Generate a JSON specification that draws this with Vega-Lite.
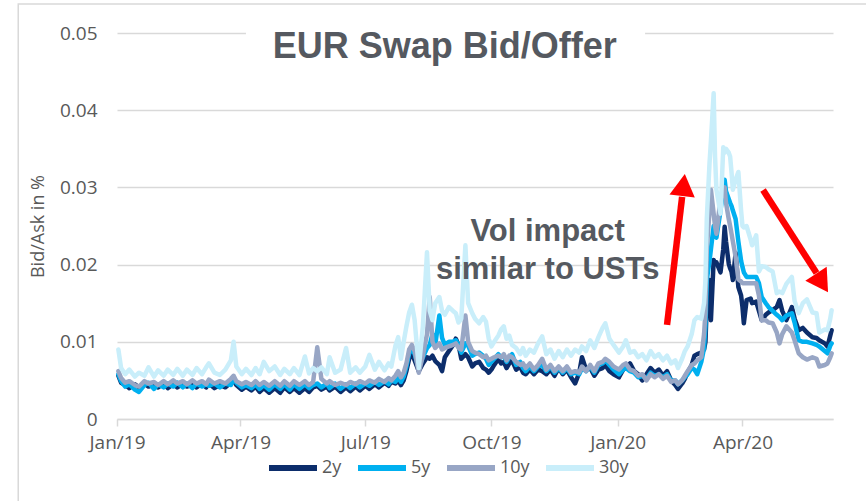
{
  "$schema": "https://vega.github.io/schema/vega-lite/v6.json",
  "width": 716,
  "height": 386,
  "autosize": {"type": "none"},
  "padding": {"left": 117, "top": 33, "right": 33, "bottom": 82},
  "background": "white",
  "config": {"view": {"stroke": null}, "font": "Open Sans"},
  "datasets": {
    "swaps": [
      {"date":"2019-01-02","2y":0.0056,"5y":0.0058,"10y":0.0062,"30y":0.0090},
      {"date":"2019-01-04","2y":0.0047,"5y":0.0049,"10y":0.0053,"30y":0.0066},
      {"date":"2019-01-07","2y":0.0044,"5y":0.0042,"10y":0.0047,"30y":0.0058},
      {"date":"2019-01-10","2y":0.0040,"5y":0.0045,"10y":0.0049,"30y":0.0064},
      {"date":"2019-01-14","2y":0.0045,"5y":0.0038,"10y":0.0044,"30y":0.0055},
      {"date":"2019-01-17","2y":0.0041,"5y":0.0035,"10y":0.0042,"30y":0.0060},
      {"date":"2019-01-21","2y":0.0046,"5y":0.0044,"10y":0.0049,"30y":0.0056},
      {"date":"2019-01-24","2y":0.0042,"5y":0.0047,"10y":0.0046,"30y":0.0067},
      {"date":"2019-01-28","2y":0.0045,"5y":0.0039,"10y":0.0048,"30y":0.0055},
      {"date":"2019-01-31","2y":0.0041,"5y":0.0045,"10y":0.0044,"30y":0.0063},
      {"date":"2019-02-04","2y":0.0046,"5y":0.0041,"10y":0.0049,"30y":0.0056},
      {"date":"2019-02-07","2y":0.0040,"5y":0.0046,"10y":0.0045,"30y":0.0064},
      {"date":"2019-02-11","2y":0.0045,"5y":0.0042,"10y":0.0050,"30y":0.0057},
      {"date":"2019-02-14","2y":0.0041,"5y":0.0047,"10y":0.0046,"30y":0.0065},
      {"date":"2019-02-18","2y":0.0046,"5y":0.0041,"10y":0.0049,"30y":0.0056},
      {"date":"2019-02-21","2y":0.0042,"5y":0.0046,"10y":0.0045,"30y":0.0064},
      {"date":"2019-02-25","2y":0.0045,"5y":0.0040,"10y":0.0050,"30y":0.0057},
      {"date":"2019-02-28","2y":0.0041,"5y":0.0046,"10y":0.0046,"30y":0.0066},
      {"date":"2019-03-04","2y":0.0046,"5y":0.0042,"10y":0.0049,"30y":0.0058},
      {"date":"2019-03-07","2y":0.0041,"5y":0.0045,"10y":0.0045,"30y":0.0067},
      {"date":"2019-03-09","2y":0.0046,"5y":0.0043,"10y":0.0051,"30y":0.0072},
      {"date":"2019-03-13","2y":0.0040,"5y":0.0046,"10y":0.0046,"30y":0.0060},
      {"date":"2019-03-17","2y":0.0044,"5y":0.0041,"10y":0.0049,"30y":0.0057},
      {"date":"2019-03-21","2y":0.0041,"5y":0.0046,"10y":0.0046,"30y":0.0064},
      {"date":"2019-03-25","2y":0.0047,"5y":0.0044,"10y":0.0052,"30y":0.0076},
      {"date":"2019-03-27","2y":0.0050,"5y":0.0052,"10y":0.0056,"30y":0.0100},
      {"date":"2019-03-29","2y":0.0044,"5y":0.0047,"10y":0.0049,"30y":0.0068},
      {"date":"2019-04-02","2y":0.0038,"5y":0.0041,"10y":0.0045,"30y":0.0058},
      {"date":"2019-04-05","2y":0.0042,"5y":0.0044,"10y":0.0048,"30y":0.0065},
      {"date":"2019-04-09","2y":0.0037,"5y":0.0040,"10y":0.0044,"30y":0.0057},
      {"date":"2019-04-12","2y":0.0042,"5y":0.0045,"10y":0.0049,"30y":0.0066},
      {"date":"2019-04-15","2y":0.0035,"5y":0.0039,"10y":0.0044,"30y":0.0058},
      {"date":"2019-04-18","2y":0.0040,"5y":0.0044,"10y":0.0048,"30y":0.0074},
      {"date":"2019-04-22","2y":0.0034,"5y":0.0038,"10y":0.0043,"30y":0.0062},
      {"date":"2019-04-26","2y":0.0040,"5y":0.0045,"10y":0.0049,"30y":0.0068},
      {"date":"2019-04-30","2y":0.0034,"5y":0.0039,"10y":0.0043,"30y":0.0057},
      {"date":"2019-05-03","2y":0.0041,"5y":0.0045,"10y":0.0049,"30y":0.0065},
      {"date":"2019-05-07","2y":0.0035,"5y":0.0038,"10y":0.0043,"30y":0.0058},
      {"date":"2019-05-10","2y":0.0040,"5y":0.0045,"10y":0.0049,"30y":0.0066},
      {"date":"2019-05-14","2y":0.0034,"5y":0.0039,"10y":0.0044,"30y":0.0057},
      {"date":"2019-05-18","2y":0.0040,"5y":0.0045,"10y":0.0049,"30y":0.0081},
      {"date":"2019-05-21","2y":0.0035,"5y":0.0040,"10y":0.0044,"30y":0.0059},
      {"date":"2019-05-24","2y":0.0041,"5y":0.0044,"10y":0.0048,"30y":0.0066},
      {"date":"2019-05-27","2y":0.0043,"5y":0.0046,"10y":0.0093,"30y":0.0062},
      {"date":"2019-05-30","2y":0.0038,"5y":0.0041,"10y":0.0052,"30y":0.0067},
      {"date":"2019-06-03","2y":0.0042,"5y":0.0046,"10y":0.0046,"30y":0.0058},
      {"date":"2019-06-05","2y":0.0037,"5y":0.0040,"10y":0.0049,"30y":0.0080},
      {"date":"2019-06-09","2y":0.0042,"5y":0.0046,"10y":0.0044,"30y":0.0060},
      {"date":"2019-06-13","2y":0.0035,"5y":0.0039,"10y":0.0047,"30y":0.0064},
      {"date":"2019-06-17","2y":0.0041,"5y":0.0045,"10y":0.0044,"30y":0.0092},
      {"date":"2019-06-20","2y":0.0036,"5y":0.0040,"10y":0.0048,"30y":0.0060},
      {"date":"2019-06-24","2y":0.0042,"5y":0.0046,"10y":0.0045,"30y":0.0067},
      {"date":"2019-06-27","2y":0.0037,"5y":0.0041,"10y":0.0049,"30y":0.0060},
      {"date":"2019-07-01","2y":0.0043,"5y":0.0046,"10y":0.0046,"30y":0.0068},
      {"date":"2019-07-04","2y":0.0039,"5y":0.0043,"10y":0.0050,"30y":0.0083},
      {"date":"2019-07-08","2y":0.0045,"5y":0.0048,"10y":0.0047,"30y":0.0064},
      {"date":"2019-07-11","2y":0.0041,"5y":0.0044,"10y":0.0052,"30y":0.0074},
      {"date":"2019-07-15","2y":0.0047,"5y":0.0049,"10y":0.0048,"30y":0.0063},
      {"date":"2019-07-18","2y":0.0043,"5y":0.0045,"10y":0.0053,"30y":0.0072},
      {"date":"2019-07-20","2y":0.0048,"5y":0.0050,"10y":0.0050,"30y":0.0068},
      {"date":"2019-07-23","2y":0.0046,"5y":0.0048,"10y":0.0056,"30y":0.0095},
      {"date":"2019-07-25","2y":0.0050,"5y":0.0054,"10y":0.0062,"30y":0.0106},
      {"date":"2019-07-27","2y":0.0044,"5y":0.0048,"10y":0.0054,"30y":0.0078},
      {"date":"2019-07-29","2y":0.0050,"5y":0.0055,"10y":0.0060,"30y":0.0100},
      {"date":"2019-07-31","2y":0.0062,"5y":0.0068,"10y":0.0072,"30y":0.0120},
      {"date":"2019-08-02","2y":0.0078,"5y":0.0085,"10y":0.0090,"30y":0.0138},
      {"date":"2019-08-04","2y":0.0085,"5y":0.0092,"10y":0.0096,"30y":0.0148},
      {"date":"2019-08-06","2y":0.0076,"5y":0.0084,"10y":0.0088,"30y":0.0128},
      {"date":"2019-08-09","2y":0.0062,"5y":0.0066,"10y":0.0060,"30y":0.0066},
      {"date":"2019-08-12","2y":0.0072,"5y":0.0080,"10y":0.0082,"30y":0.0120},
      {"date":"2019-08-15","2y":0.0080,"5y":0.0092,"10y":0.0110,"30y":0.0216},
      {"date":"2019-08-17","2y":0.0078,"5y":0.0096,"10y":0.0158,"30y":0.0140},
      {"date":"2019-08-19","2y":0.0082,"5y":0.0110,"10y":0.0100,"30y":0.0128},
      {"date":"2019-08-21","2y":0.0075,"5y":0.0096,"10y":0.0092,"30y":0.0150},
      {"date":"2019-08-24","2y":0.0070,"5y":0.0134,"10y":0.0098,"30y":0.0158},
      {"date":"2019-08-26","2y":0.0062,"5y":0.0105,"10y":0.0090,"30y":0.0140},
      {"date":"2019-08-28","2y":0.0080,"5y":0.0096,"10y":0.0092,"30y":0.0135},
      {"date":"2019-08-31","2y":0.0088,"5y":0.0100,"10y":0.0094,"30y":0.0145},
      {"date":"2019-09-03","2y":0.0096,"5y":0.0100,"10y":0.0096,"30y":0.0140},
      {"date":"2019-09-05","2y":0.0104,"5y":0.0102,"10y":0.0098,"30y":0.0137},
      {"date":"2019-09-07","2y":0.0096,"5y":0.0096,"10y":0.0092,"30y":0.0125},
      {"date":"2019-09-09","2y":0.0078,"5y":0.0086,"10y":0.0090,"30y":0.0130},
      {"date":"2019-09-12","2y":0.0084,"5y":0.0098,"10y":0.0134,"30y":0.0225},
      {"date":"2019-09-14","2y":0.0080,"5y":0.0095,"10y":0.0100,"30y":0.0150},
      {"date":"2019-09-17","2y":0.0068,"5y":0.0082,"10y":0.0088,"30y":0.0137},
      {"date":"2019-09-19","2y":0.0072,"5y":0.0084,"10y":0.0086,"30y":0.0130},
      {"date":"2019-09-22","2y":0.0074,"5y":0.0086,"10y":0.0084,"30y":0.0124},
      {"date":"2019-09-25","2y":0.0066,"5y":0.0082,"10y":0.0080,"30y":0.0132},
      {"date":"2019-09-27","2y":0.0064,"5y":0.0078,"10y":0.0082,"30y":0.0126},
      {"date":"2019-09-29","2y":0.0060,"5y":0.0070,"10y":0.0076,"30y":0.0104},
      {"date":"2019-10-01","2y":0.0064,"5y":0.0074,"10y":0.0078,"30y":0.0094},
      {"date":"2019-10-03","2y":0.0070,"5y":0.0078,"10y":0.0080,"30y":0.0100},
      {"date":"2019-10-06","2y":0.0078,"5y":0.0084,"10y":0.0082,"30y":0.0108},
      {"date":"2019-10-08","2y":0.0072,"5y":0.0080,"10y":0.0080,"30y":0.0116},
      {"date":"2019-10-10","2y":0.0074,"5y":0.0082,"10y":0.0084,"30y":0.0120},
      {"date":"2019-10-12","2y":0.0066,"5y":0.0074,"10y":0.0076,"30y":0.0104},
      {"date":"2019-10-14","2y":0.0072,"5y":0.0080,"10y":0.0082,"30y":0.0108},
      {"date":"2019-10-16","2y":0.0076,"5y":0.0084,"10y":0.0080,"30y":0.0096},
      {"date":"2019-10-19","2y":0.0064,"5y":0.0070,"10y":0.0074,"30y":0.0092},
      {"date":"2019-10-22","2y":0.0068,"5y":0.0074,"10y":0.0070,"30y":0.0084},
      {"date":"2019-10-24","2y":0.0060,"5y":0.0066,"10y":0.0072,"30y":0.0092},
      {"date":"2019-10-26","2y":0.0058,"5y":0.0062,"10y":0.0066,"30y":0.0082},
      {"date":"2019-10-29","2y":0.0064,"5y":0.0068,"10y":0.0072,"30y":0.0090},
      {"date":"2019-11-01","2y":0.0058,"5y":0.0062,"10y":0.0064,"30y":0.0086},
      {"date":"2019-11-04","2y":0.0064,"5y":0.0068,"10y":0.0070,"30y":0.0098},
      {"date":"2019-11-07","2y":0.0062,"5y":0.0070,"10y":0.0078,"30y":0.0107},
      {"date":"2019-11-10","2y":0.0058,"5y":0.0062,"10y":0.0064,"30y":0.0084},
      {"date":"2019-11-13","2y":0.0064,"5y":0.0068,"10y":0.0070,"30y":0.0090},
      {"date":"2019-11-16","2y":0.0056,"5y":0.0060,"10y":0.0062,"30y":0.0078},
      {"date":"2019-11-19","2y":0.0066,"5y":0.0066,"10y":0.0068,"30y":0.0088},
      {"date":"2019-11-22","2y":0.0058,"5y":0.0060,"10y":0.0062,"30y":0.0080},
      {"date":"2019-11-25","2y":0.0064,"5y":0.0066,"10y":0.0068,"30y":0.0090},
      {"date":"2019-11-28","2y":0.0054,"5y":0.0058,"10y":0.0060,"30y":0.0082},
      {"date":"2019-12-01","2y":0.0046,"5y":0.0060,"10y":0.0062,"30y":0.0090},
      {"date":"2019-12-04","2y":0.0060,"5y":0.0058,"10y":0.0060,"30y":0.0086},
      {"date":"2019-12-06","2y":0.0080,"5y":0.0066,"10y":0.0068,"30y":0.0094},
      {"date":"2019-12-09","2y":0.0064,"5y":0.0062,"10y":0.0062,"30y":0.0088},
      {"date":"2019-12-12","2y":0.0066,"5y":0.0068,"10y":0.0070,"30y":0.0102},
      {"date":"2019-12-15","2y":0.0056,"5y":0.0060,"10y":0.0062,"30y":0.0092},
      {"date":"2019-12-18","2y":0.0064,"5y":0.0070,"10y":0.0072,"30y":0.0106},
      {"date":"2019-12-21","2y":0.0066,"5y":0.0072,"10y":0.0074,"30y":0.0118},
      {"date":"2019-12-23","2y":0.0070,"5y":0.0076,"10y":0.0078,"30y":0.0124},
      {"date":"2019-12-26","2y":0.0062,"5y":0.0070,"10y":0.0074,"30y":0.0104},
      {"date":"2019-12-29","2y":0.0058,"5y":0.0064,"10y":0.0068,"30y":0.0096},
      {"date":"2020-01-02","2y":0.0054,"5y":0.0058,"10y":0.0064,"30y":0.0086},
      {"date":"2020-01-05","2y":0.0064,"5y":0.0064,"10y":0.0070,"30y":0.0094},
      {"date":"2020-01-07","2y":0.0066,"5y":0.0066,"10y":0.0072,"30y":0.0102},
      {"date":"2020-01-10","2y":0.0072,"5y":0.0062,"10y":0.0064,"30y":0.0086},
      {"date":"2020-01-13","2y":0.0062,"5y":0.0060,"10y":0.0062,"30y":0.0088},
      {"date":"2020-01-16","2y":0.0058,"5y":0.0054,"10y":0.0056,"30y":0.0080},
      {"date":"2020-01-19","2y":0.0050,"5y":0.0056,"10y":0.0058,"30y":0.0084},
      {"date":"2020-01-22","2y":0.0058,"5y":0.0052,"10y":0.0050,"30y":0.0076},
      {"date":"2020-01-25","2y":0.0066,"5y":0.0060,"10y":0.0058,"30y":0.0088},
      {"date":"2020-01-28","2y":0.0060,"5y":0.0056,"10y":0.0054,"30y":0.0080},
      {"date":"2020-01-31","2y":0.0064,"5y":0.0058,"10y":0.0058,"30y":0.0084},
      {"date":"2020-02-03","2y":0.0056,"5y":0.0054,"10y":0.0052,"30y":0.0076},
      {"date":"2020-02-06","2y":0.0062,"5y":0.0058,"10y":0.0056,"30y":0.0082},
      {"date":"2020-02-09","2y":0.0050,"5y":0.0050,"10y":0.0048,"30y":0.0072},
      {"date":"2020-02-12","2y":0.0044,"5y":0.0050,"10y":0.0050,"30y":0.0076},
      {"date":"2020-02-14","2y":0.0039,"5y":0.0045,"10y":0.0045,"30y":0.0066},
      {"date":"2020-02-17","2y":0.0046,"5y":0.0050,"10y":0.0050,"30y":0.0078},
      {"date":"2020-02-19","2y":0.0052,"5y":0.0054,"10y":0.0056,"30y":0.0088},
      {"date":"2020-02-21","2y":0.0060,"5y":0.0058,"10y":0.0062,"30y":0.0094},
      {"date":"2020-02-24","2y":0.0070,"5y":0.0066,"10y":0.0070,"30y":0.0110},
      {"date":"2020-02-26","2y":0.0082,"5y":0.0064,"10y":0.0072,"30y":0.0128},
      {"date":"2020-02-28","2y":0.0084,"5y":0.0058,"10y":0.0076,"30y":0.0132},
      {"date":"2020-03-02","2y":0.0086,"5y":0.0074,"10y":0.0080,"30y":0.0130},
      {"date":"2020-03-04","2y":0.0090,"5y":0.0092,"10y":0.0110,"30y":0.0150},
      {"date":"2020-03-05","2y":0.0100,"5y":0.0120,"10y":0.0138,"30y":0.0180},
      {"date":"2020-03-06","2y":0.0150,"5y":0.0180,"10y":0.0220,"30y":0.0260},
      {"date":"2020-03-08","2y":0.0180,"5y":0.0205,"10y":0.0270,"30y":0.0332},
      {"date":"2020-03-09","2y":0.0128,"5y":0.0220,"10y":0.0297,"30y":0.0360},
      {"date":"2020-03-11","2y":0.0206,"5y":0.0250,"10y":0.0266,"30y":0.0422},
      {"date":"2020-03-12","2y":0.0200,"5y":0.0240,"10y":0.0250,"30y":0.0340},
      {"date":"2020-03-13","2y":0.0203,"5y":0.0235,"10y":0.0240,"30y":0.0297},
      {"date":"2020-03-16","2y":0.0190,"5y":0.0270,"10y":0.0285,"30y":0.0266},
      {"date":"2020-03-18","2y":0.0220,"5y":0.0300,"10y":0.0295,"30y":0.0352},
      {"date":"2020-03-19","2y":0.0249,"5y":0.0310,"10y":0.0300,"30y":0.0345},
      {"date":"2020-03-20","2y":0.0230,"5y":0.0295,"10y":0.0280,"30y":0.0350},
      {"date":"2020-03-22","2y":0.0201,"5y":0.0285,"10y":0.0259,"30y":0.0345},
      {"date":"2020-03-23","2y":0.0195,"5y":0.0280,"10y":0.0250,"30y":0.0340},
      {"date":"2020-03-24","2y":0.0191,"5y":0.0276,"10y":0.0240,"30y":0.0320},
      {"date":"2020-03-25","2y":0.0180,"5y":0.0270,"10y":0.0230,"30y":0.0297},
      {"date":"2020-03-27","2y":0.0215,"5y":0.0259,"10y":0.0210,"30y":0.0310},
      {"date":"2020-03-29","2y":0.0171,"5y":0.0230,"10y":0.0181,"30y":0.0320},
      {"date":"2020-03-31","2y":0.0160,"5y":0.0205,"10y":0.0178,"30y":0.0270},
      {"date":"2020-04-01","2y":0.0145,"5y":0.0197,"10y":0.0176,"30y":0.0250},
      {"date":"2020-04-02","2y":0.0124,"5y":0.0190,"10y":0.0176,"30y":0.0248},
      {"date":"2020-04-04","2y":0.0154,"5y":0.0184,"10y":0.0176,"30y":0.0250},
      {"date":"2020-04-07","2y":0.0156,"5y":0.0184,"10y":0.0176,"30y":0.0232},
      {"date":"2020-04-08","2y":0.0150,"5y":0.0184,"10y":0.0176,"30y":0.0225},
      {"date":"2020-04-11","2y":0.0152,"5y":0.0184,"10y":0.0176,"30y":0.0238},
      {"date":"2020-04-13","2y":0.0140,"5y":0.0176,"10y":0.0160,"30y":0.0191},
      {"date":"2020-04-15","2y":0.0128,"5y":0.0158,"10y":0.0128,"30y":0.0198},
      {"date":"2020-04-18","2y":0.0135,"5y":0.0150,"10y":0.0128,"30y":0.0197},
      {"date":"2020-04-20","2y":0.0138,"5y":0.0145,"10y":0.0125,"30y":0.0194},
      {"date":"2020-04-23","2y":0.0141,"5y":0.0140,"10y":0.0124,"30y":0.0191},
      {"date":"2020-04-26","2y":0.0145,"5y":0.0135,"10y":0.0112,"30y":0.0163},
      {"date":"2020-04-28","2y":0.0154,"5y":0.0132,"10y":0.0098,"30y":0.0165},
      {"date":"2020-04-30","2y":0.0140,"5y":0.0128,"10y":0.0110,"30y":0.0163},
      {"date":"2020-05-03","2y":0.0128,"5y":0.0134,"10y":0.0120,"30y":0.0175},
      {"date":"2020-05-07","2y":0.0145,"5y":0.0137,"10y":0.0112,"30y":0.0184},
      {"date":"2020-05-09","2y":0.0130,"5y":0.0125,"10y":0.0102,"30y":0.0153},
      {"date":"2020-05-12","2y":0.0115,"5y":0.0102,"10y":0.0085,"30y":0.0137},
      {"date":"2020-05-15","2y":0.0118,"5y":0.0100,"10y":0.0080,"30y":0.0150},
      {"date":"2020-05-18","2y":0.0112,"5y":0.0100,"10y":0.0077,"30y":0.0155},
      {"date":"2020-05-22","2y":0.0106,"5y":0.0098,"10y":0.0080,"30y":0.0138},
      {"date":"2020-05-25","2y":0.0105,"5y":0.0096,"10y":0.0078,"30y":0.0137},
      {"date":"2020-05-27","2y":0.0102,"5y":0.0094,"10y":0.0068,"30y":0.0112},
      {"date":"2020-05-31","2y":0.0098,"5y":0.0088,"10y":0.0070,"30y":0.0116},
      {"date":"2020-06-02","2y":0.0094,"5y":0.0085,"10y":0.0072,"30y":0.0115},
      {"date":"2020-06-04","2y":0.0108,"5y":0.0095,"10y":0.0080,"30y":0.0130},
      {"date":"2020-06-05","2y":0.0115,"5y":0.0098,"10y":0.0085,"30y":0.0141}
    ]
  },
  "encoding": {
    "x": {
      "field": "date",
      "type": "temporal",
      "scale": {
        "type": "utc",
        "domain": [
          {"year": 2019, "month": 1, "date": 1, "utc": true},
          {"year": 2020, "month": 6, "date": 6, "utc": true}
        ]
      },
      "axis": {
        "values": [
          {"year": 2019, "month": 1, "date": 1, "utc": true},
          {"year": 2019, "month": 4, "date": 1, "utc": true},
          {"year": 2019, "month": 7, "date": 1, "utc": true},
          {"year": 2019, "month": 10, "date": 1, "utc": true},
          {"year": 2020, "month": 1, "date": 1, "utc": true},
          {"year": 2020, "month": 4, "date": 1, "utc": true}
        ],
        "labelExpr": "utcFormat(datum.value, '%b/%y')",
        "title": null,
        "grid": false,
        "domainColor": "#d9d9d9",
        "domainWidth": 1.5,
        "tickColor": "#d9d9d9",
        "tickWidth": 1.5,
        "tickSize": 7,
        "labelFontSize": 19,
        "labelFont": "Open Sans",
        "labelColor": "#595959",
        "labelPadding": 7,
        "labelFlush": false,
        "labelOverlap": false,
        "labelBound": false
      }
    },
    "y": {
      "field": "value",
      "type": "quantitative",
      "scale": {"domain": [0, 0.05], "nice": false},
      "axis": {
        "values": [0, 0.01, 0.02, 0.03, 0.04, 0.05],
        "format": ".2~f",
        "title": "Bid/Ask in %",
        "titleFontSize": 18,
        "titleFont": "Open Sans",
        "titleFontWeight": "normal",
        "titleColor": "#595959",
        "titlePadding": 12,
        "domain": false,
        "ticks": false,
        "labelPadding": 20,
        "labelFontSize": 19,
        "labelFont": "Open Sans",
        "labelColor": "#595959",
        "gridColor": "#d9d9d9",
        "gridWidth": 1.5
      }
    }
  },
  "layer": [
    {
      "data": {"values": [{"date": "2018-10-21", "date2": "2020-07-20", "value": 0.05376, "value2": -0.02}]},
      "mark": {"type": "rect", "filled": false, "color": "#d9d9d9", "strokeWidth": 1.5},
      "encoding": {"x2": {"field": "date2"}, "y2": {"field": "value2"}}
    },
    {
      "data": {"values": [{"date": "2019-04-05", "date2": "2020-01-21", "value": 0.0472, "value2": 0.0515}]},
      "mark": {"type": "rect", "color": "white"},
      "encoding": {"x2": {"field": "date2"}, "y2": {"field": "value2"}}
    },
    {
      "data": {"name": "swaps"},
      "transform": [{"fold": ["2y", "5y", "10y", "30y"], "as": ["series", "value"]}],
      "mark": {"type": "line", "strokeWidth": 4.5, "strokeJoin": "round", "strokeCap": "round"},
      "encoding": {
        "color": {
          "field": "series",
          "type": "nominal",
          "scale": {"domain": ["2y", "5y", "10y", "30y"], "range": ["#0c2d6b", "#00b0f0", "#98a6c5", "#c9eefa"]},
          "legend": {
            "orient": "none",
            "legendX": 149,
            "legendY": 408,
            "direction": "horizontal",
            "title": null,
            "symbolType": "stroke",
            "symbolStrokeWidth": 6,
            "symbolSize": 2304,
            "labelFontSize": 18,
            "labelFont": "Open Sans",
            "labelColor": "#595959",
            "labelOffset": 2,
            "columnPadding": 4,
            "padding": 0
          }
        }
      }
    },
    {
      "data": {"values": [{"date": "2019-08-28", "value": 0.04676, "label": "EUR Swap Bid/Offer"}]},
      "mark": {"type": "text", "align": "center", "baseline": "alphabetic", "font": "Liberation Sans", "fontSize": 36, "fontWeight": "bold", "color": "#555960"},
      "encoding": {"text": {"field": "label"}}
    },
    {
      "data": {"values": [
        {"date": "2019-11-11", "value": 0.02306, "label": "Vol impact"},
        {"date": "2019-11-11", "value": 0.01813, "label": "similar to USTs"}
      ]},
      "mark": {"type": "text", "align": "center", "baseline": "alphabetic", "font": "Liberation Sans", "fontSize": 31, "fontWeight": "bold", "color": "#555960"},
      "encoding": {"text": {"field": "label"}}
    },
    {
      "data": {"values": [
        {"date": "2020-02-06", "date2": "2020-02-17", "value": 0.01218, "value2": 0.02878},
        {"date": "2020-04-16", "date2": "2020-05-25", "value": 0.02966, "value2": 0.0189}
      ]},
      "mark": {"type": "rule", "color": "#ff0000", "strokeWidth": 6.5},
      "encoding": {"x2": {"field": "date2"}, "y2": {"field": "value2"}}
    },
    {
      "data": {"values": [{"date": "2020-02-18", "value": 0.03031}]},
      "mark": {"type": "point", "shape": "triangle-up", "filled": true, "color": "#ff0000", "size": 650, "angle": 7, "opacity": 1},
      "encoding": {}
    },
    {
      "data": {"values": [{"date": "2020-05-29", "value": 0.01762}]},
      "mark": {"type": "point", "shape": "triangle-up", "filled": true, "color": "#ff0000", "size": 650, "angle": 147, "opacity": 1},
      "encoding": {}
    }
  ]
}
